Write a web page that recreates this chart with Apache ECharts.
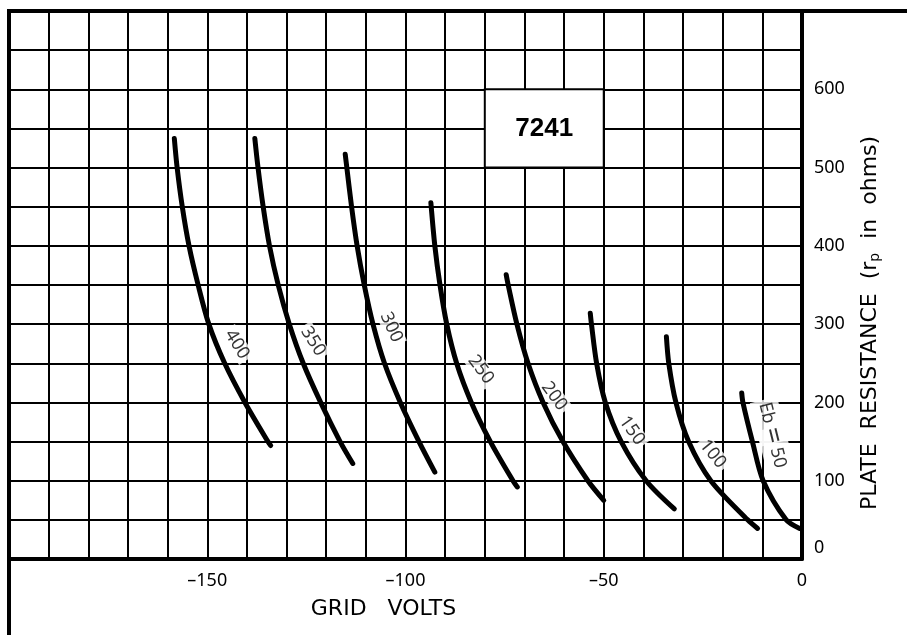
<!DOCTYPE html>
<html>
<head>
<meta charset="utf-8">
<script src="https://cdn.jsdelivr.net/npm/echarts@6/dist/echarts.min.js"></script>
<style>html,body{margin:0;padding:0;background:#fff}#c{width:907px;height:635px}</style>
</head>
<body>
<div id="c"></div>
<script>
// Grid volts (x) vs plate resistance in ohms (y) for each plate voltage Eb
const curve400 = [[-158.3,537],[-157.6,500],[-156.3,450],[-154.6,400],[-152.3,350],[-149.6,300],[-145.6,250],[-140.5,200],[-134.7,150],[-134.0,145]];
const curve350 = [[-138.0,537],[-137.2,500],[-135.9,450],[-134.3,400],[-132.1,350],[-129.3,300],[-125.8,250],[-121.4,200],[-116.5,150],[-113.3,122]];
const curve300 = [[-115.2,517],[-114.8,500],[-113.6,450],[-112.2,400],[-110.4,350],[-108.2,300],[-105.3,250],[-101.3,200],[-96.6,150],[-92.6,111]];
const curve250 = [[-93.6,455],[-92.6,400],[-91.3,350],[-89.6,300],[-87.1,250],[-83.4,200],[-78.6,150],[-72.9,100],[-71.8,92]];
const curve200 = [[-74.6,363],[-74.1,350],[-71.9,300],[-69.1,250],[-65.3,200],[-60.3,150],[-54.0,100],[-50.0,75]];
const curve150 = [[-53.4,314],[-53.1,300],[-51.8,250],[-49.6,200],[-45.6,150],[-39.3,100],[-32.2,64]];
const curve100 = [[-34.2,284],[-33.6,250],[-31.8,200],[-28.6,150],[-23.0,100],[-13.7,50],[-11.2,39]];
const curve50  = [[-15.2,212],[-14.9,200],[-12.5,150],[-9.8,100],[-4.0,50],[-0.6,39]];
const curves = [curve400, curve350, curve300, curve250, curve200, curve150, curve100, curve50];

// curve labels (text and anchor in data units)
const labelTexts = ['400','350','300','250','200','150','100','Eb {eq|=} 50'];
const labelAnchors = [[-142.5,274],[-123.3,278],[-103.6,296],[-81,242],[-62.5,208],[-42.9,164],[-22.5,134],[-7.5,158]];
const labelAngles = [-58,-58,-66,-53,-54,-55,-51,-76];

const xTickLabels = [-150,-100,-50,0];
const yTickLabels = [0,100,200,300,400,500,600];
const tubeName = '7241';
const tubeBox = [[-80,600],[-50,500]];

const xTitle = 'GRID   VOLTS';
const yTitle = 'PLATE  RESISTANCE  (r{sub|p}  in  ohms)';

const chart = echarts.init(document.getElementById('c'), null, {renderer:'canvas'});
const FONT = 'Noto Sans';

const series = curves.map(function(c){
  return {
    type:'line', data:c, smooth:0.3, showSymbol:false, symbol:'none', z:3,
    lineStyle:{color:'#000', width:5, cap:'round', join:'round'}, silent:true
  };
});
series.push({
  type:'scatter', z:2, symbolSize:0, silent:true,
  data: labelAnchors.map(function(p,i){
    return {value:p, label:{rotate:labelAngles[i], formatter:labelTexts[i]}};
  }),
  label:{show:true, position:'inside', color:'#000', fontFamily:FONT, fontSize:18,
    backgroundColor:'#fff', padding:[0,3,0,3],
    rich:{eq:{fontSize:28, fontFamily:FONT, color:'#000', backgroundColor:'#fff'}}},
  markArea:{
    silent:true,
    itemStyle:{color:'#fff', borderColor:'#000', borderWidth:2},
    label:{show:true, position:'inside', formatter:tubeName, color:'#000',
      fontFamily:'Liberation Sans', fontWeight:'bold', fontSize:26},
    data:[[{coord:tubeBox[0]},{coord:tubeBox[1]}]]
  }
});

chart.setOption({
  animation:false,
  backgroundColor:'#fff',
  grid:{left:9, right:105, top:11, bottom:76, containLabel:false},
  xAxis:{
    type:'value', min:-200, max:0, interval:10,
    axisLine:{show:true, onZero:false, lineStyle:{color:'#000', width:4}},
    axisTick:{show:false},
    splitLine:{show:true, lineStyle:{color:'#000', width:2}},
    axisLabel:{margin:13, color:'#000', fontFamily:FONT, fontSize:18,
      formatter:function(v){ return xTickLabels.indexOf(v) >= 0 ? (v<0 ? '\u2013'+Math.abs(v) : String(v)) : ''; }},
    name:xTitle, nameLocation:'middle', nameGap:39,
    nameTextStyle:{color:'#000', fontFamily:'DejaVu Sans', fontSize:22, padding:[0,44,0,0]}
  },
  yAxis:{
    type:'value', position:'right', min:0, max:700, interval:50,
    axisLine:{show:true, lineStyle:{color:'#000', width:4}},
    axisTick:{show:false},
    splitLine:{show:true, lineStyle:{color:'#000', width:2}},
    axisLabel:{margin:12, color:'#000', fontFamily:FONT, fontSize:18,
      formatter:function(v){ if (yTickLabels.indexOf(v) < 0) return ''; return v===0 ? '{z|0}' : String(v); },
      rich:{z:{fontFamily:FONT, fontSize:18, color:'#000', padding:[0,0,22,0]}}},
    name:yTitle, nameLocation:'middle', nameRotate:90, nameGap:56,
    nameTextStyle:{color:'#000', fontFamily:'DejaVu Sans', fontSize:22, padding:[0,76,0,0],
      rich:{sub:{fontFamily:'DejaVu Sans', fontSize:14, color:'#000', padding:[10,0,0,0]}}}
  },
  series:series
});

// outer frame lines (left edge runs to the bottom, top edge runs to the right)
const tl = chart.convertToPixel({gridIndex:0}, [-200,700]);
chart.setOption({graphic:[
  {type:'line', z:10, shape:{x1:tl[0], y1:tl[1], x2:tl[0], y2:635}, style:{stroke:'#000', lineWidth:4}},
  {type:'line', z:10, shape:{x1:tl[0]-2, y1:tl[1], x2:907, y2:tl[1]}, style:{stroke:'#000', lineWidth:4}}
]});
</script>
</body>
</html>
